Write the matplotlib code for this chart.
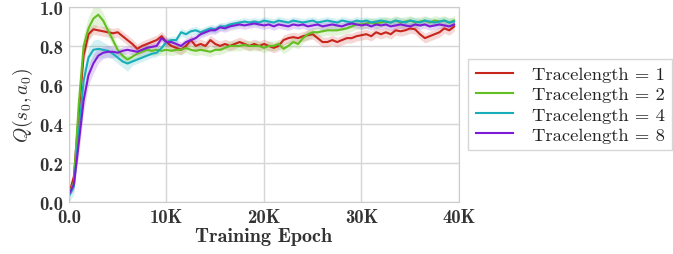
import numpy as np
import matplotlib
matplotlib.use("Agg")
import matplotlib.pyplot as plt

# training epochs, one point every 500
epochs = np.arange(0, 40000, 500)

red = [0.04, 0.13, 0.45, 0.75, 0.86, 0.885, 0.88, 0.875, 0.87, 0.865,
       0.87, 0.85, 0.83, 0.81, 0.785, 0.80, 0.81, 0.82, 0.83, 0.85,
       0.82, 0.80, 0.79, 0.78, 0.80, 0.83, 0.80, 0.81, 0.80, 0.83,
       0.81, 0.80, 0.81, 0.80, 0.81, 0.82, 0.81, 0.80, 0.81, 0.80,
       0.81, 0.80, 0.79, 0.80, 0.83, 0.84, 0.845, 0.84, 0.85, 0.855,
       0.86, 0.84, 0.82, 0.82, 0.83, 0.82, 0.83, 0.84, 0.84, 0.85,
       0.855, 0.86, 0.85, 0.87, 0.86, 0.87, 0.86, 0.88, 0.875, 0.88,
       0.89, 0.885, 0.86, 0.84, 0.85, 0.86, 0.87, 0.89, 0.88, 0.90]
green = [0.04, 0.10, 0.50, 0.80, 0.89, 0.94, 0.96, 0.93, 0.88, 0.83,
         0.78, 0.75, 0.73, 0.745, 0.76, 0.77, 0.78, 0.775, 0.78, 0.775,
         0.78, 0.775, 0.78, 0.78, 0.79, 0.78, 0.775, 0.78, 0.775, 0.77,
         0.78, 0.78, 0.79, 0.80, 0.80, 0.80, 0.805, 0.80, 0.80, 0.80,
         0.79, 0.80, 0.80, 0.81, 0.785, 0.80, 0.82, 0.81, 0.84, 0.86,
         0.87, 0.87, 0.875, 0.88, 0.88, 0.88, 0.885, 0.89, 0.90, 0.91,
         0.91, 0.915, 0.92, 0.915, 0.92, 0.925, 0.92, 0.93, 0.92, 0.925,
         0.93, 0.92, 0.925, 0.93, 0.92, 0.93, 0.925, 0.93, 0.92, 0.93]
cyan = [0.03, 0.08, 0.35, 0.62, 0.74, 0.78, 0.785, 0.78, 0.775, 0.76,
        0.74, 0.72, 0.71, 0.72, 0.73, 0.74, 0.75, 0.76, 0.765, 0.79,
        0.82, 0.83, 0.83, 0.87, 0.86, 0.875, 0.88, 0.87, 0.88, 0.89,
        0.885, 0.90, 0.90, 0.91, 0.915, 0.92, 0.925, 0.92, 0.925, 0.92,
        0.93, 0.925, 0.92, 0.93, 0.925, 0.92, 0.93, 0.925, 0.92, 0.925,
        0.93, 0.92, 0.925, 0.93, 0.925, 0.92, 0.93, 0.925, 0.92, 0.93,
        0.925, 0.93, 0.92, 0.925, 0.93, 0.925, 0.92, 0.93, 0.925, 0.92,
        0.93, 0.925, 0.92, 0.93, 0.925, 0.92, 0.925, 0.93, 0.92, 0.925]
purple = [0.04, 0.09, 0.30, 0.52, 0.65, 0.71, 0.75, 0.765, 0.77, 0.77,
          0.765, 0.775, 0.78, 0.775, 0.77, 0.78, 0.79, 0.795, 0.80, 0.84,
          0.82, 0.82, 0.81, 0.80, 0.82, 0.83, 0.84, 0.86, 0.87, 0.88,
          0.88, 0.895, 0.89, 0.90, 0.905, 0.91, 0.905, 0.91, 0.915, 0.91,
          0.905, 0.91, 0.90, 0.91, 0.905, 0.90, 0.91, 0.905, 0.91, 0.90,
          0.905, 0.91, 0.90, 0.905, 0.91, 0.905, 0.90, 0.91, 0.915, 0.91,
          0.905, 0.91, 0.90, 0.91, 0.905, 0.91, 0.90, 0.905, 0.91, 0.905,
          0.90, 0.91, 0.905, 0.91, 0.90, 0.905, 0.91, 0.905, 0.90, 0.91]

# spread of the shaded band
red_std = [0.01, 0.03, 0.05, 0.04, 0.03] + [0.025] * 75
green_std = [0.01, 0.03, 0.06, 0.06, 0.06, 0.06, 0.05, 0.04, 0.03, 0.03] + [0.025] * 70
cyan_std = [0.03, 0.04, 0.06, 0.06, 0.05, 0.05, 0.05, 0.04, 0.03, 0.03, 0.03, 0.03, 0.04] + [0.02] * 67
purple_std = [0.01, 0.03, 0.06, 0.06, 0.05, 0.05, 0.04, 0.03, 0.03, 0.03] + [0.02] * 70

labels = ["Tracelength = 1", "Tracelength = 2", "Tracelength = 4", "Tracelength = 8"]
colors = ["#c8251c", "#62bf22", "#17adb9", "#7f1bd6"]

plt.rcParams['mathtext.fontset'] = 'cm'
plt.rcParams['axes.formatter.use_mathtext'] = True

fig = plt.figure(figsize=(6.73, 2.55), dpi=100)
ax = fig.add_axes([0.1025, 0.204, 0.5795, 0.765])

for y, s, lab, c in zip([red, green, cyan, purple],
                        [red_std, green_std, cyan_std, purple_std], labels, colors):
    y = np.array(y)
    s = np.array(s)
    ax.fill_between(epochs, y - s, y + s, color=c, alpha=0.18, lw=0)
    ax.plot(epochs, y, color=c, lw=1.5, label=lab)

ax.set_xlim(0, 40000)
ax.set_ylim(0, 1.0)
ax.set_xticks([0, 10000, 20000, 30000, 40000])
ax.set_xticklabels(["0.0", "10K", "20K", "30K", "40K"], family="cmb10", fontsize=13.5)
ax.set_yticks([0, 0.2, 0.4, 0.6, 0.8, 1.0])
ax.set_yticklabels(["0.0", "0.2", "0.4", "0.6", "0.8", "1.0"], family="cmb10", fontsize=13.5)
ax.tick_params(length=0, pad=4, colors="#333333")
ax.grid(True, color="#d6d6d6", lw=1)
ax.set_axisbelow(True)
for sp in ax.spines.values():
    sp.set_color("#cccccc")

ax.set_xlabel("Training Epoch", family="cmb10", fontsize=14.5, color="#333333", labelpad=1)
ax.set_ylabel(r"$Q(s_0, a_0)$", fontsize=14, color="#333333", labelpad=3)

leg = ax.legend(loc="center left", bbox_to_anchor=(1.0, 0.5), fancybox=False,
                prop={"family": "cmr10", "size": 13.4}, handlelength=2.0,
                borderpad=0.4, labelspacing=0.22, handletextpad=1.0)
leg.get_frame().set_edgecolor("#cccccc")
for t in leg.get_texts():
    t.set_color("#222222")

fig.savefig("out.png", dpi=100)
